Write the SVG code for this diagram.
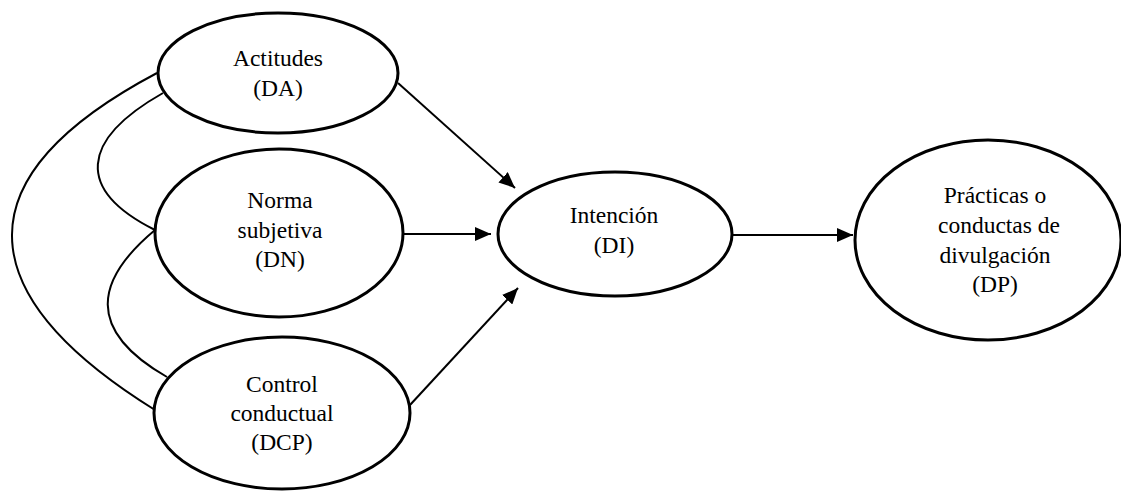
<svg xmlns="http://www.w3.org/2000/svg" width="1121" height="492" viewBox="0 0 1121 492">
<style>
.node ellipse{fill:#fff;stroke:#000;stroke-width:3}
.node text{font-family:"Liberation Serif","Times New Roman",serif;font-size:23.5px;fill:#000;text-anchor:middle}
.conn path,.conn line{fill:none;stroke:#000;stroke-width:2}
</style>
<defs>
<marker id="arr" markerWidth="16" markerHeight="14" refX="16" refY="7" orient="auto" markerUnits="userSpaceOnUse">
<path d="M0,0 L16,7 L0,14 Z" fill="#000"/>
</marker>
</defs>
<rect width="1121" height="492" fill="#fff"/>
<g id="connectors" class="conn">
<path d="M157,73 C -64,190 -6,310 155,410"/>
<path d="M163,93 C 80,140 75,190 155,230"/>
<path d="M155,230 C 95,280 85,330 167,377"/>
<line x1="398" y1="83" x2="515" y2="188" marker-end="url(#arr)"/>
<line x1="403" y1="234" x2="491" y2="234" marker-end="url(#arr)"/>
<line x1="410" y1="405" x2="518" y2="288" marker-end="url(#arr)"/>
<line x1="731" y1="235" x2="853" y2="235" marker-end="url(#arr)"/>
</g>
<g id="DA" class="node">
<ellipse cx="278" cy="73" rx="120" ry="60"/>
<text x="278" y="66">Actitudes</text>
<text x="278" y="96">(DA)</text>
</g>
<g id="DN" class="node">
<ellipse cx="279" cy="233" rx="124" ry="84"/>
<text x="280" y="208">Norma</text>
<text x="280" y="238">subjetiva</text>
<text x="280" y="267">(DN)</text>
</g>
<g id="DCP" class="node">
<ellipse cx="282" cy="413" rx="128" ry="76"/>
<text x="282" y="392">Control</text>
<text x="282" y="421">conductual</text>
<text x="282" y="450">(DCP)</text>
</g>
<g id="DI" class="node">
<ellipse cx="615" cy="234" rx="117" ry="62"/>
<text x="614" y="223">Intención</text>
<text x="614" y="253">(DI)</text>
</g>
<g id="DP" class="node">
<ellipse cx="988" cy="240" rx="133" ry="100"/>
<text x="995" y="203">Prácticas o</text>
<text x="999" y="233">conductas de</text>
<text x="995" y="263">divulgación</text>
<text x="995" y="292">(DP)</text>
</g>
</svg>
